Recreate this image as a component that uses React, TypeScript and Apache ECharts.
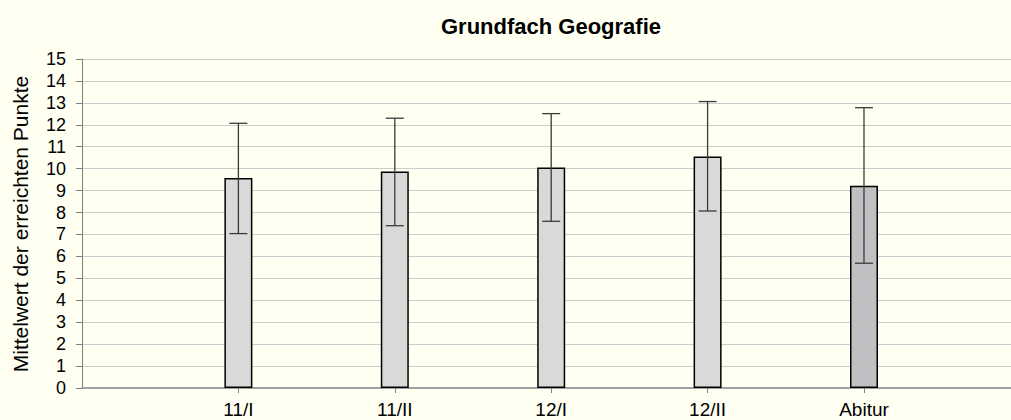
import React, { useEffect, useRef } from "react";
import * as echarts from "echarts";

const title = "Grundfach Geografie";
const yAxisTitle = "Mittelwert der erreichten Punkte";
const categories = ["11/I", "11/II", "12/I", "12/II", "Abitur"];
const means = [9.57, 9.87, 10.05, 10.55, 9.22];
const errLow = [7.04, 7.4, 7.6, 8.07, 5.69];
const errHigh = [12.07, 12.3, 12.51, 13.06, 12.78];
const barColors = ["#D9D9D9", "#D9D9D9", "#D9D9D9", "#D9D9D9", "#C0C0C0"];
const yTicks = [0, 15, 1]; // min, max, interval

const FONT = "Liberation Sans, Arial, sans-serif";

export default function App() {
  const ref = useRef<HTMLDivElement>(null);
  useEffect(() => {
    document.body.style.margin = "0";
    const chart = echarts.init(ref.current!, null, { renderer: "svg" });
    const positions = categories.map((_, i) => i + 1);
    chart.setOption({
      animation: false,
      backgroundColor: "#FFFFF2",
      grid: { left: 82, right: 0, top: 59, bottom: 32 },
      xAxis: {
        type: "value",
        min: 0,
        max: 5.94,
        interval: 1,
        splitLine: { show: false },
        axisLine: { show: true, lineStyle: { color: "#A0A0A0", width: 2 } },
        axisTick: {
          show: true,
          customValues: positions,
          length: 5,
          lineStyle: { color: "#808080" },
        },
        axisLabel: {
          customValues: positions,
          formatter: (v: number) => categories[Math.round(v) - 1] ?? "",
          fontFamily: FONT,
          fontSize: 19,
          color: "#000",
          margin: 12,
        },
      },
      yAxis: {
        type: "value",
        min: yTicks[0],
        max: yTicks[1],
        interval: yTicks[2],
        axisLine: { show: true, lineStyle: { color: "#808080", width: 1 } },
        axisTick: { show: true, length: 6, lineStyle: { color: "#808080" } },
        axisLabel: {
          fontFamily: FONT,
          fontSize: 18,
          color: "#000",
          margin: 16,
        },
        splitLine: { show: true, lineStyle: { color: "#CCCCCC", width: 1 } },
      },
      graphic: [
        {
          type: "text",
          x: 551,
          y: 26,
          style: {
            text: title,
            font: `bold 22px ${FONT}`,
            fill: "#000",
            textAlign: "center",
            textVerticalAlign: "middle",
          },
        },
        {
          type: "text",
          x: 20.5,
          y: 224,
          rotation: Math.PI / 2,
          style: {
            text: yAxisTitle,
            font: `21px ${FONT}`,
            fill: "#000",
            textAlign: "center",
            textVerticalAlign: "middle",
          },
        },
      ],
      series: [
        {
          type: "bar",
          barWidth: 28,
          data: means.map((m, i) => ({
            value: [positions[i], m],
            itemStyle: { color: barColors[i], borderColor: "#000", borderWidth: 1.5 },
          })),
          z: 2,
        },
        {
          type: "custom",
          z: 5,
          data: means.map((_, i) => [positions[i], errLow[i], errHigh[i]]),
          renderItem: (params: any, api: any) => {
            const x = api.value(0);
            const lo = api.coord([x, api.value(1)]);
            const hi = api.coord([x, api.value(2)]);
            const cw = 9;
            const style = { stroke: "#3A3A3A", lineWidth: 1.3 };
            return {
              type: "group",
              children: [
                { type: "line", shape: { x1: lo[0], y1: lo[1], x2: hi[0], y2: hi[1] }, style },
                { type: "line", shape: { x1: lo[0] - cw, y1: lo[1], x2: lo[0] + cw, y2: lo[1] }, style },
                { type: "line", shape: { x1: hi[0] - cw, y1: hi[1], x2: hi[0] + cw, y2: hi[1] }, style },
              ],
            };
          },
        },
      ],
    });
    return () => chart.dispose();
  }, []);
  return (
    <div
      ref={ref}
      style={{ position: "fixed", left: 0, top: 0, width: 1011, height: 420 }}
    />
  );
}
